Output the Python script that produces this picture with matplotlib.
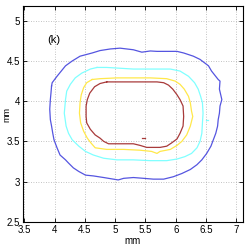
import matplotlib
matplotlib.use("Agg")
import matplotlib.pyplot as plt

# contour levels (outer to inner) (mm)
blue_x = [3.95, 3.96, 4.04, 4.18, 4.29, 4.42, 4.62, 4.75, 4.92, 5.08, 5.19, 5.30, 5.44, 5.58, 5.69, 5.85,
          6.02, 6.13, 6.29, 6.40, 6.54, 6.59, 6.70, 6.73, 6.72, 6.76, 6.73, 6.72, 6.70, 6.69, 6.66, 6.62,
          6.58, 6.51, 6.43, 6.35, 6.24, 6.10, 5.96, 5.80, 5.63, 5.47, 5.30, 5.14, 5.05, 4.97, 4.81, 4.64,
          4.51, 4.40, 4.31, 4.23, 4.18, 4.09, 4.04, 3.99, 3.97, 3.95, 3.93, 3.92, 3.93, 3.94, 3.95]
blue_y = [4.19, 4.23, 4.31, 4.44, 4.50, 4.56, 4.60, 4.63, 4.65, 4.66, 4.65, 4.64, 4.61, 4.625, 4.62, 4.62,
          4.62, 4.60, 4.56, 4.52, 4.44, 4.375, 4.27, 4.25, 4.15, 4.02, 3.94, 3.85, 3.77, 3.69, 3.60, 3.52,
          3.44, 3.35, 3.27, 3.21, 3.15, 3.10, 3.06, 3.03, 3.03, 3.04, 3.05, 3.04, 3.02, 3.03, 3.05, 3.07,
          3.08, 3.125, 3.17, 3.23, 3.27, 3.33, 3.42, 3.52, 3.60, 3.69, 3.77, 3.90, 4.02, 4.10, 4.19]

cyan_x = [4.70, 4.59, 4.45, 4.34, 4.26, 4.20, 4.18, 4.16, 4.19, 4.23, 4.29, 4.40, 4.51, 4.64, 4.81, 5.03,
          5.30, 5.58, 5.85, 6.02, 6.15, 6.26, 6.35, 6.40, 6.43, 6.44, 6.45, 6.44, 6.41, 6.37, 6.31, 6.21,
          6.07, 5.91, 5.69, 5.52, 5.30, 5.08, 4.86, 4.70]
cyan_y = [4.42, 4.40, 4.35, 4.29, 4.21, 4.125, 4.02, 3.85, 3.69, 3.60, 3.52, 3.44, 3.375, 3.33, 3.29, 3.27,
          3.27, 3.26, 3.26, 3.28, 3.31, 3.35, 3.42, 3.50, 3.60, 3.73, 3.85, 3.98, 4.06, 4.15, 4.23, 4.31,
          4.375, 4.40, 4.40, 4.40, 4.40, 4.41, 4.42, 4.42]

yellow_x = [4.62, 4.53, 4.48, 4.44, 4.42, 4.41, 4.43, 4.48, 4.54, 4.60, 4.67, 4.86, 5.14, 5.41, 5.60, 5.69,
            5.74, 5.91, 6.02, 6.10, 6.18, 6.24, 6.28, 6.26, 6.24, 6.21, 6.14, 6.07, 5.99, 5.85, 5.58, 5.30,
            5.03, 4.75, 4.62]
yellow_y = [4.27, 4.23, 4.17, 4.08, 3.98, 3.85, 3.73, 3.625, 3.54, 3.48, 3.42, 3.40, 3.40, 3.39, 3.375, 3.35,
            3.375, 3.40, 3.45, 3.50, 3.58, 3.69, 3.81, 3.875, 3.98, 4.06, 4.15, 4.21, 4.25, 4.28, 4.29, 4.29,
            4.29, 4.28, 4.27]

red_x = [4.86, 4.75, 4.66, 4.58, 4.54, 4.52, 4.52, 4.53, 4.59, 4.67, 4.75, 4.81, 4.89, 5.08, 5.30, 5.41,
         5.52, 5.74, 5.85, 5.93, 6.02, 6.07, 6.12, 6.13, 6.12, 6.07, 6.02, 5.95, 5.88, 5.80, 5.69, 5.41,
         5.14, 4.97, 4.86]
red_y = [4.24, 4.22, 4.18, 4.10, 4.02, 3.94, 3.81, 3.73, 3.65, 3.58, 3.54, 3.50, 3.47, 3.47, 3.47, 3.45,
         3.425, 3.425, 3.44, 3.48, 3.53, 3.60, 3.69, 3.81, 3.94, 4.02, 4.08, 4.15, 4.20, 4.23, 4.24, 4.24,
         4.24, 4.24, 4.24]

# small islands
red_dot_x = [5.45, 5.49]
red_dot_y = [3.54, 3.54]
cyan_dot_x = [6.50, 6.53]
cyan_dot_y = [3.76, 3.76]

xticks = [3.5, 4, 4.5, 5, 5.5, 6, 6.5, 7]
yticks = [2.5, 3, 3.5, 4, 4.5, 5]
panel_label = "(k)"

plt.rcParams['font.family'] = ['Liberation Sans', 'DejaVu Sans']
fig = plt.figure(figsize=(2.45, 2.45), dpi=100)
ax = fig.add_axes([0.093, 0.095, 0.899, 0.879])

lw = 0.9
ax.plot(blue_x, blue_y, color='#5555e0', lw=lw)
ax.plot(cyan_x, cyan_y, color='#80ffff', lw=lw)
ax.plot(yellow_x, yellow_y, color='#ffe84a', lw=lw)
ax.plot(red_x, red_y, color='#a83a3a', lw=lw)
ax.plot(red_dot_x, red_dot_y, color='#a83a3a', lw=lw)
ax.plot(cyan_dot_x, cyan_dot_y, color='#80ffff', lw=lw)

ax.set_xlim(3.475, 7.11)
ax.set_ylim(2.5, 5.18)
ax.set_xticks(xticks)
ax.set_xticklabels([f"{t:g}" for t in xticks])
ax.set_yticks(yticks)
ax.set_yticklabels([f"{t:g}" for t in yticks])
ax.tick_params(direction='in', length=3, width=0.6, labelsize=7, pad=2,
               top=True, right=True)
ax.grid(True, color='#b0b0b0', linestyle=(0, (1, 2)), linewidth=0.6)
for s in ax.spines.values():
    s.set_linewidth(0.8)
ax.set_xlabel('mm', fontsize=7, labelpad=1)
ax.set_ylabel('mm', fontsize=6.5)
ax.yaxis.set_label_coords(-0.05, 0.5)
ax.text(3.98, 4.76, panel_label, fontsize=8, ha='center', va='center')

fig.savefig('out.png', dpi=100)
